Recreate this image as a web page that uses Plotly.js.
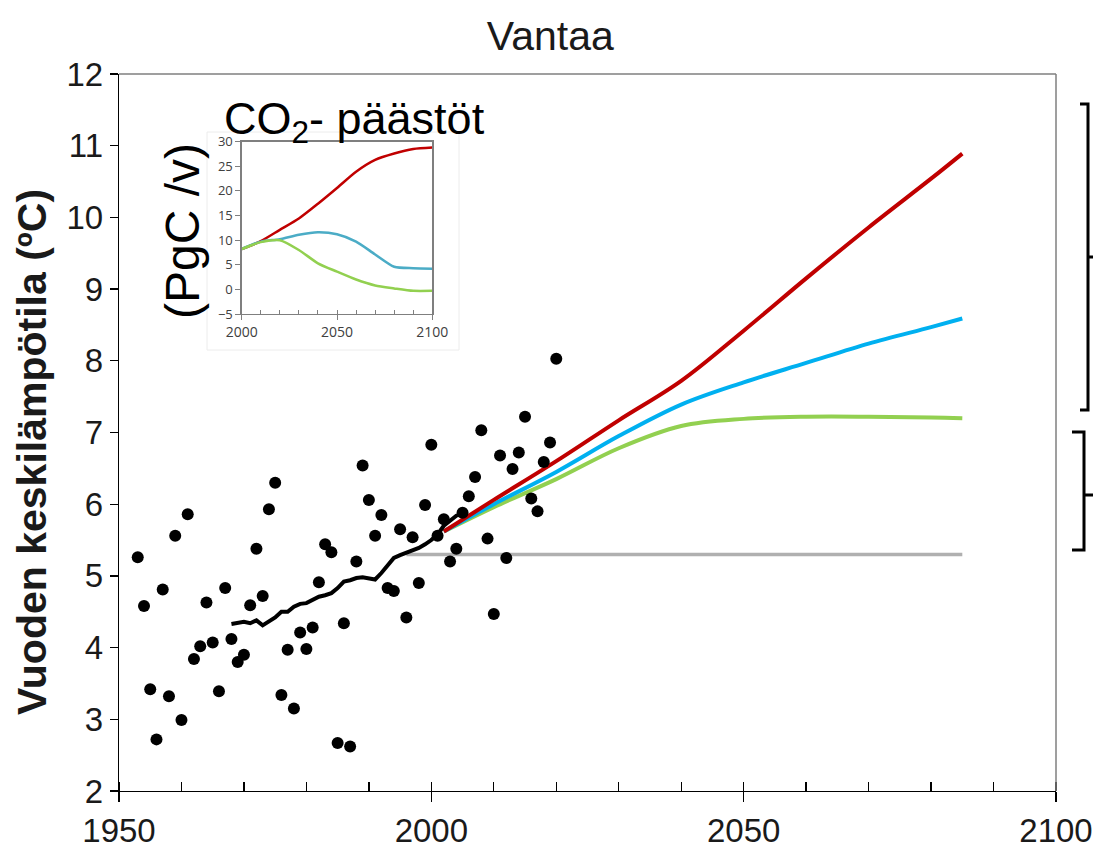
<!DOCTYPE html>
<html><head><meta charset="utf-8">
<script src="https://cdn.plot.ly/plotly-3.0.1.min.js"></script>
<style>html,body{margin:0;padding:0;background:#fff;} #chart{width:1094px;height:851px;}</style>
</head><body><div id="chart"></div>
<script>
// ---- observed annual mean temperature, Vantaa ----
const obsYears = [1953,1954,1955,1956,1957,1958,1959,1960,1961,1962,1963,1964,1965,1966,1967,1968,1969,1970,
  1971,1972,1973,1974,1975,1976,1977,1978,1979,1980,1981,1982,1983,1984,1985,1986,1987,1988,1989,1990,
  1991,1992,1993,1994,1995,1996,1997,1998,1999,2000,2001,2002,2003,2004,2005,2006,2007,2008,2009,2010,
  2011,2012,2013,2014,2015,2016,2017,2018,2019,2020];
const obsTemps = [5.26,4.58,3.42,2.72,4.81,3.32,5.56,2.99,5.86,3.84,4.02,4.63,4.07,3.39,4.83,4.12,3.80,3.90,
  4.59,5.38,4.72,5.93,6.30,3.34,3.97,3.15,4.21,3.98,4.28,4.91,5.44,5.33,2.67,4.34,2.62,5.20,6.54,6.06,
  5.56,5.85,4.83,4.79,5.65,4.42,5.54,4.90,5.99,6.83,5.56,5.79,5.20,5.38,5.88,6.11,6.38,7.03,5.52,4.47,
  6.68,5.25,6.49,6.72,7.22,6.08,5.90,6.59,6.86,8.03];

// ---- running mean ----
const meanYears = [1968,1969,1970,1971,1972,1973,1974,1975,1976,1977,1978,1979,1980,1981,1982,1983,1984,
  1985,1986,1987,1988,1989,1990,1991,1992,1993,1994,1995,1996,1997,1998,1999,2000,2001,2002,2003,2004,2005];
const meanTemps = [4.33,4.35,4.36,4.34,4.38,4.31,4.37,4.42,4.50,4.50,4.57,4.61,4.62,4.66,4.71,4.73,4.76,
  4.83,4.92,4.94,4.97,4.98,4.96,4.95,5.04,5.14,5.25,5.29,5.32,5.35,5.39,5.44,5.50,5.58,5.70,5.77,5.84,5.87];

// ---- projections ----
const projYears = [2002,2010,2020,2030,2040,2050,2060,2070,2080,2085];
const rcp85Temp = [5.62,6.06,6.60,7.17,7.72,8.42,9.15,9.86,10.54,10.89];
const rcp45Temp = [5.62,6.00,6.45,6.95,7.39,7.70,7.97,8.24,8.47,8.59];
const rcp26Temp = [5.62,5.96,6.35,6.78,7.09,7.19,7.22,7.22,7.21,7.20];
const baseYears = [1996,2085];
const baseTemp = [5.3,5.3];

// ---- inset: CO2 emissions (PgC/yr) ----
const co2Years = [2000,2010,2020,2030,2040,2050,2060,2070,2080,2090,2100];
const co2Rcp85 = [8.2,9.8,12.1,14.4,17.4,20.6,23.9,26.3,27.6,28.5,28.8];
const co2Rcp45 = [8.2,9.7,10.2,11.1,11.6,11.2,9.7,7.1,4.6,4.3,4.2];
const co2Rcp26 = [8.2,9.6,10.0,8.0,5.3,3.6,2.0,0.8,0.2,-0.3,-0.3];

const FONT = 'Liberation Sans, Arial, sans-serif';
const PL=119, PT=74, PW=937, PH=717;
const px = x => (x-PL)/PW;
const py = y => (PT+PH-y)/PH;

const traces = [
  {x: baseYears, y: baseTemp, mode:'lines', line:{color:'#b0b0b0', width:3.5}, xaxis:'x', yaxis:'y'},
  {x: projYears, y: rcp26Temp, mode:'lines', line:{color:'#92d050', width:4, shape:'spline', smoothing:1}},
  {x: projYears, y: rcp45Temp, mode:'lines', line:{color:'#00b0f0', width:4, shape:'spline', smoothing:1}},
  {x: projYears, y: rcp85Temp, mode:'lines', line:{color:'#c00000', width:4, shape:'spline', smoothing:1}},
  {x: meanYears, y: meanTemps, mode:'lines', line:{color:'#000', width:4}},
  {x: obsYears, y: obsTemps, mode:'markers', marker:{color:'#000', size:12, line:{width:0}}},
  {x: co2Years, y: co2Rcp85, mode:'lines', line:{color:'#c00000', width:2.5, shape:'spline', smoothing:0.7}, xaxis:'x2', yaxis:'y2'},
  {x: co2Years, y: co2Rcp45, mode:'lines', line:{color:'#4bacc6', width:2.5, shape:'spline', smoothing:0.7}, xaxis:'x2', yaxis:'y2'},
  {x: co2Years, y: co2Rcp26, mode:'lines', line:{color:'#92d050', width:2.5, shape:'spline', smoothing:0.7}, xaxis:'x2', yaxis:'y2'}
];

function bracket(xv, xh, xt, yTop, yBot, yMid){
  return {type:'path', xref:'paper', yref:'paper', line:{color:'#000', width:3},
    path:`M${px(xh)},${py(yTop)} L${px(xv)},${py(yTop)} L${px(xv)},${py(yBot)} L${px(xh)},${py(yBot)} M${px(xv)},${py(yMid)} L${px(xt)},${py(yMid)}`};
}

const layout = {
  width:1094, height:851, showlegend:false,
  paper_bgcolor:'#fff', plot_bgcolor:'#fff',
  margin:{l:PL, r:1094-PL-PW, t:PT, b:851-PT-PH},
  font:{family:FONT, color:'#1a1a1a'},
  title:{text:'Vantaa', font:{family:FONT, size:41, color:'#1a1a1a'}, x:0.503, xanchor:'center', y:1-36/851, yanchor:'middle', yref:'container'},
  xaxis:{range:[1950,2100], tick0:1950, dtick:50, ticks:'outside', ticklen:10, tickwidth:1.3, tickcolor:'#000',
    showline:true, linecolor:'#000', linewidth:1.3, showgrid:false, zeroline:false,
    tickfont:{size:33, family:FONT, color:'#1a1a1a'},
    minor:{ticks:'inside', tick0:1950, dtick:10, ticklen:9, tickwidth:1.3, tickcolor:'#000', showgrid:false}},
  yaxis:{range:[2,12], tick0:2, dtick:1, ticks:'outside', ticklen:8, tickwidth:1.3, tickcolor:'#000',
    showline:true, linecolor:'#000', linewidth:1.3, showgrid:false, zeroline:false,
    tickfont:{size:33, family:FONT, color:'#1a1a1a'}},
  xaxis2:{anchor:'y2', domain:[px(241.7), px(432.3)], range:[2000,2100], tick0:2000, dtick:50,
    ticks:'outside', ticklen:5, tickcolor:'#7f7f7f', showline:true, mirror:true, linecolor:'#7f7f7f', linewidth:1.3,
    showgrid:false, zeroline:false, tickfont:{size:14, family:'Open Sans, sans-serif', color:'#404040'},
    minor:{ticks:'inside', tick0:2000, dtick:10, ticklen:4, tickcolor:'#7f7f7f', showgrid:false}},
  yaxis2:{anchor:'x2', domain:[py(314), py(141.7)], range:[-5,30], tick0:-5, dtick:5,
    ticks:'outside', ticklen:5, tickcolor:'#7f7f7f', showline:true, mirror:true, linecolor:'#7f7f7f', linewidth:1.3,
    showgrid:false, zeroline:false, tickfont:{size:13, family:'Open Sans, sans-serif', color:'#404040'}},
  shapes:[
    {type:'rect', xref:'paper', yref:'paper', x0:px(207), x1:px(459), y0:py(350), y1:py(132), fillcolor:'#fff', line:{color:'#ececec', width:1}, layer:'below'},
    {type:'line', xref:'paper', yref:'paper', x0:0, x1:1, y0:1, y1:1, line:{color:'#7f7f7f', width:1.5}},
    {type:'line', xref:'paper', yref:'paper', x0:1, x1:1, y0:0, y1:1, line:{color:'#7f7f7f', width:1.5}},
    bracket(1088, 1080, 1093, 104, 410, 257),
    bracket(1084, 1072, 1093, 432, 550, 495)
  ],
  annotations:[
    {xref:'paper', yref:'paper', x:px(32), y:py(452), text:'<b>Vuoden keskilämpötila (ºC)</b>', textangle:-90,
      showarrow:false, xanchor:'center', yanchor:'middle', font:{family:FONT, size:41, color:'#1a1a1a'}},
    {xref:'paper', yref:'paper', x:px(222), y:py(121), text:'CO<sub>2</sub>- päästöt',
      showarrow:false, xanchor:'left', yanchor:'middle', font:{family:FONT, size:45, color:'#000'}},
    {xref:'paper', yref:'paper', x:px(183), y:py(231), text:'(PgC /v)', textangle:-90,
      showarrow:false, xanchor:'center', yanchor:'middle', font:{family:FONT, size:48, color:'#000'}}
  ]
};

Plotly.newPlot('chart', traces, layout, {displayModeBar:false, staticPlot:true});
</script></body></html>
